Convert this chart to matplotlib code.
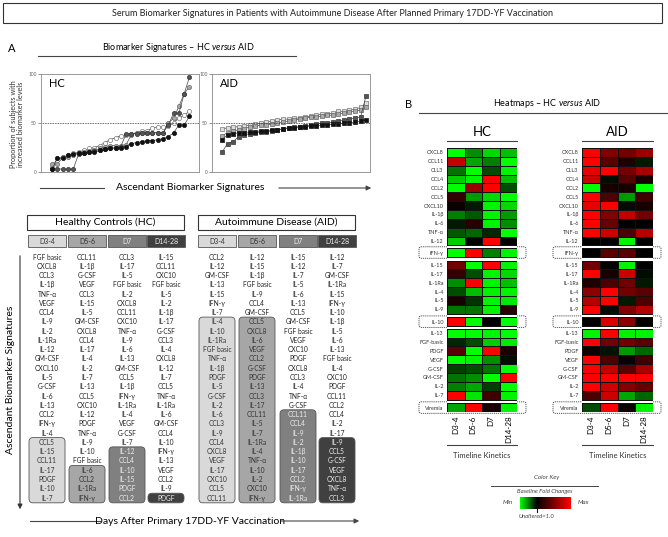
import numpy as np
import matplotlib
matplotlib.use('Agg')
import matplotlib.pyplot as plt
from matplotlib.patches import FancyBboxPatch, Rectangle
from matplotlib.colors import LinearSegmentedColormap

plt.rcParams['font.family'] = ['Lato', 'DejaVu Sans']
plt.rcParams['mathtext.fontset'] = 'custom'
plt.rcParams['mathtext.it'] = 'Lato:italic'

W, H = 668, 537

# ---- Panel A: proportion of subjects with increased biomarker levels (%)
hc_black = [3, 14, 14, 17, 18, 19, 19, 20, 20, 22, 23, 24, 24, 25, 26, 29, 30, 31, 32, 32, 33, 34, 36, 40, 48, 48, 57]
hc_dgray = [3, 3, 3, 3, 3, 18, 19, 20, 21, 22, 23, 24, 25, 26, 39, 39, 39, 40, 40, 40, 40, 40, 48, 60, 60, 80, 97]
hc_mgray = [8, 8, 15, 15, 17, 19, 20, 21, 22, 24, 26, 27, 27, 27, 28, 38, 40, 40, 40, 40, 40, 40, 50, 55, 67, 80, 87]
hc_open = [5, 14, 15, 17, 19, 20, 22, 24, 25, 27, 30, 33, 35, 37, 38, 39, 40, 42, 42, 45, 46, 46, 47, 50, 55, 58, 62]

aid_open = [44, 45, 46, 46, 47, 48, 49, 50, 51, 52, 53, 54, 54, 55, 55, 56, 57, 58, 59, 59, 60, 62, 62, 63, 64, 66, 70]
aid_mgray = [37, 40, 42, 43, 44, 46, 47, 48, 48, 49, 50, 51, 52, 53, 54, 55, 56, 56, 57, 58, 58, 59, 60, 61, 62, 63, 66]
aid_black = [33, 38, 39, 40, 40, 41, 41, 42, 42, 43, 43, 44, 45, 45, 46, 46, 47, 47, 48, 48, 49, 49, 50, 50, 51, 52, 53]
aid_dgray = [20, 29, 31, 36, 38, 39, 40, 41, 41, 42, 43, 44, 45, 46, 46, 47, 48, 49, 50, 50, 51, 52, 53, 54, 55, 56, 78]

days = ['D3-4', 'D5-6', 'D7', 'D14-28']

# ascendant biomarker lists (top -> bottom)
hc_list_d3_4 = ['FGF basic', 'CXCL8', 'CCL3', 'IL-1β', 'TNF-α', 'VEGF', 'CCL4', 'IL-9', 'IL-2', 'IL-1Ra',
                'IL-12', 'GM-CSF', 'CXCL10', 'IL-5', 'G-CSF', 'IL-6', 'IL-13', 'CCL2', 'IFN-γ', 'IL-4',
                'CCL5', 'IL-15', 'CCL11', 'IL-17', 'PDGF', 'IL-10', 'IL-7']
hc_list_d5_6 = ['CCL11', 'IL-1β', 'G-CSF', 'VEGF', 'CCL3', 'IL-15', 'IL-5', 'GM-CSF', 'CXCL8', 'CCL4',
                'IL-17', 'IL-4', 'IL-2', 'IL-7', 'IL-13', 'CCL5', 'CXC10', 'IL-12', 'PDGF', 'TNF-α',
                'IL-9', 'IL-10', 'FGF basic', 'IL-6', 'CCL2', 'IL-1Ra', 'IFN-γ']
hc_list_d7 = ['CCL3', 'IL-17', 'IL-5', 'FGF basic', 'IL-2', 'CXCL8', 'CCL11', 'CXC10', 'TNF-α', 'IL-9',
              'IL-6', 'IL-13', 'GM-CSF', 'CCL5', 'IL-1β', 'IFN-γ', 'IL-1Ra', 'IL-4', 'VEGF', 'G-CSF',
              'IL-7', 'IL-12', 'CCL4', 'IL-10', 'IL-15', 'PDGF', 'CCL2']
hc_list_d14_28 = ['IL-15', 'CCL11', 'CXC10', 'FGF basic', 'IL-5', 'IL-2', 'IL-1β', 'IL-17', 'G-CSF', 'CCL3',
                  'IL-4', 'CXCL8', 'IL-12', 'IL-7', 'CCL5', 'TNF-α', 'IL-1Ra', 'IL-6', 'GM-CSF', 'CCL4',
                  'IL-10', 'IFN-γ', 'IL-13', 'VEGF', 'CCL2', 'IL-9', 'PDGF']
aid_list_d3_4 = ['CCL2', 'IL-12', 'GM-CSF', 'IL-13', 'IL-15', 'IFN-γ', 'IL-7', 'IL-4', 'IL-10', 'IL-1Ra',
                 'FGF basic', 'TNF-α', 'IL-1β', 'PDGF', 'IL-5', 'G-CSF', 'IL-2', 'IL-6', 'CCL3', 'IL-9',
                 'CCL4', 'CXCL8', 'VEGF', 'IL-17', 'CXC10', 'CCL5', 'CCL11']
aid_list_d5_6 = ['IL-12', 'IL-15', 'IL-1β', 'FGF basic', 'IL-9', 'CCL4', 'GM-CSF', 'CCL5', 'CXCL8', 'IL-6',
                 'VEGF', 'CCL2', 'G-CSF', 'PDGF', 'IL-13', 'CCL3', 'IL-17', 'CCL11', 'IL-5', 'IL-7',
                 'IL-1Ra', 'IL-4', 'TNF-α', 'IL-10', 'IL-2', 'CXC10', 'IFN-γ']
aid_list_d7 = ['IL-15', 'IL-12', 'IL-7', 'IL-5', 'IL-6', 'IL-13', 'CCL5', 'GM-CSF', 'FGF basic', 'VEGF',
               'CXC10', 'PDGF', 'CXCL8', 'CCL3', 'IL-4', 'TNF-α', 'G-CSF', 'CCL11', 'CCL4', 'IL-9',
               'IL-2', 'IL-1β', 'IL-10', 'IL-17', 'CCL2', 'IFN-γ', 'IL-1Ra']
aid_list_d14_28 = ['IL-12', 'IL-7', 'GM-CSF', 'IL-1Ra', 'IL-15', 'IFN-γ', 'IL-10', 'IL-1β', 'IL-5', 'IL-6',
                   'IL-13', 'FGF basic', 'IL-4', 'CXC10', 'PDGF', 'CCL11', 'CCL2', 'CCL4', 'IL-2', 'IL-17',
                   'IL-9', 'CCL5', 'G-CSF', 'VEGF', 'CXCL8', 'TNF-α', 'CCL3']
hc_highlight_from = [20, 23, 21, 26]
aid_highlight_from = [7, 7, 17, 20]

# ---- Panel B: heatmaps (fold change, -1 = min/green, +1 = max/red)
hm_rows = ['CXCL8', 'CCL11', 'CLL3', 'CCL4', 'CCL2', 'CCL5', 'CXCL10', 'IL-1β', 'IL-6', 'TNF-α',
           'IL-12', 'IFN-γ', 'IL-15', 'IL-17', 'IL-1Ra', 'IL-4', 'IL-5', 'IL-9', 'IL-10', 'IL-13',
           'FGF-basic', 'PDGF', 'VEGF', 'G-CSF', 'GM-CSF', 'IL-2', 'IL-7', 'Viremia']
boxed_rows = ['IFN-γ', 'IL-10', 'Viremia']
hc_d3_4 = [-1, 0.75, -0.45, -0.8, -1, 0.2, 0.05, -0.5, -0.1, -0.35, -0.8, -1, 0.45, 0.2, -0.55, -0.3, 0.1, -0.45,
           1, -1, -0.15, 0.35, -1, -0.25, -0.45, -0.5, 1, -0.65]
hc_d5_6 = [-0.55, -0.65, -1, -0.95, 0.6, -0.6, -0.1, -0.35, 0.15, -0.4, 0, 1, -1, -0.3, 1, -0.75, -0.2, -0.45,
           -1, -1, -0.3, -1, -0.95, -0.3, -0.55, -0.65, -0.9, 1]
hc_d7 = [-0.85, -0.5, -0.3, 1, 1, -0.85, -0.95, -0.95, -0.95, -0.15, 1, -0.5, 1, -0.95, -0.95, -0.95, -0.95, -0.95,
         0, -0.95, -0.8, 1, -0.55, -0.45, -1, -0.25, 0.25, 0.1]
hc_d14_28 = [-0.75, -1, -0.95, -0.75, -0.3, -1, -0.85, -0.6, -0.55, -1, 0, -0.95, -0.95, -0.85, -0.75, -0.95, -0.9,
             0.15, -1, -1, -0.9, 0.1, -0.05, -1, 1, -1, -0.95, -0.95]
aid_d3_4 = [1, 1, 0.9, 0.8, -1, 1, 0.9, 1, 1, 1, 0, 0, 0.45, 1, 0.12, 0.55, 0.7, 1, 0.02, -0.95, 1, 0.05, 1, 1, 1,
            1, 0.3, -0.3]
aid_d5_6 = [0.5, 0.35, 1, -0.05, 0.1, 0.3, 1, 0.5, 0.4, 0.8, 0, 0.35, 0, 0.1, 0.3, 1, 1, -0.05, 0.85, 1, 0.45,
            -0.08, 0.3, 0.75, 1, 0.8, 0.8, 1]
aid_d7 = [0.45, 0.12, 0.45, 0.35, 0.1, -0.6, -0.05, 0.75, 0, 0.3, -0.95, 0.35, -0.95, 0.8, 0.45, 0.45, -0.1, 0.5,
          0.55, -0.95, 0.45, -0.6, 0.05, 0.35, 1, 0.5, -0.65, 0.05]
aid_d14_28 = [0.6, -0.1, 0.65, 0.1, -1, 0.25, 0.1, 0.45, 0, 0.7, 0, 0, 0, -0.05, -0.1, 0.35, 0.3, 0.7, 0.02,
              -0.95, 0.35, -0.4, 0.25, 0.65, 1, 0.4, -0.4, -0.95]

day_fill = ['#d9d9d9', '#a6a6a6', '#808080', '#404040']
day_text = ['#333333', '#333333', '#eeeeee', '#eeeeee']
gbr = LinearSegmentedColormap.from_list('gbr', ['#00ff00', '#000000', '#ff0000'])

fig = plt.figure(figsize=(6.68, 5.37), dpi=100)


def px_axes(x0, y0, x1, y1, **kw):
    return fig.add_axes([x0 / W, 1 - y1 / H, (x1 - x0) / W, (y1 - y0) / H], **kw)


ov = px_axes(0, 0, W, H)
ov.set_xlim(0, W)
ov.set_ylim(H, 0)
ov.axis('off')

# title box
ov.add_patch(Rectangle((3, 3), 659, 20, fc='white', ec='#333333', lw=0.8))
ov.text(333, 13, 'Serum Biomarker Signatures in Patients with Autoimmune Disease After Planned Primary 17DD-YF Vaccination',
        ha='center', va='center', fontsize=6.5, color='#222222')

# ---- panel A header
ov.text(8, 49, 'A', fontsize=8, va='center')
ov.text(178, 47, 'Biomarker Signatures – HC $\\mathit{versus}$ AID', ha='center', va='center', fontsize=6.5)
ov.plot([38, 296], [56, 56], color='#444444', lw=0.8)

ov.text(17, 124, 'Proportion of subjects with\nincreased biomarker levels', rotation=90, ha='center',
        va='center', fontsize=5.3, color='#333333', linespacing=1.15)


def scatter_panel(ax, series, marker, name, xlim):
    for vals, face, edge in series:
        ax.plot(range(len(vals)), vals, marker=marker, ms=3, mfc=face, mec=edge, mew=0.5,
                color='#444444', lw=0.5)
    ax.axhline(50, color='#333333', lw=0.6, ls=(0, (1, 1)))
    ax.set_ylim(0, 100)
    ax.set_xlim(*xlim)
    ax.set_xticks([])
    ax.set_yticks([0, 50, 100])
    ax.tick_params(axis='y', labelsize=3.5, length=2, width=0.5, pad=1, colors='#666666')
    for s in ax.spines.values():
        s.set_color('#999999')
        s.set_linewidth(0.7)
    ax.text(0.05, 0.9, name, transform=ax.transAxes, fontsize=8, va='center')


ax_hc = px_axes(41, 74, 199, 172)
scatter_panel(ax_hc, [(hc_open, 'white', '#777777'), (hc_mgray, '#aaaaaa', '#666666'),
                      (hc_dgray, '#555555', '#333333'), (hc_black, '#111111', '#111111')],
              'o', 'HC', (-2.1, 27.8))
ax_aid = px_axes(212, 74, 370, 172)
scatter_panel(ax_aid, [(aid_open, '#dddddd', '#777777'), (aid_mgray, '#aaaaaa', '#666666'),
                       (aid_dgray, '#555555', '#333333'), (aid_black, '#111111', '#111111')],
              's', 'AID', (-1.8, 26.7))

ov.plot([40, 104], [188, 188], color='#444444', lw=0.8)
ov.text(190, 188, 'Ascendant Biomarker Signatures', ha='center', va='center', fontsize=7.5)
ov.annotate('', xy=(374, 188), xytext=(276, 188),
            arrowprops=dict(arrowstyle='-|>', color='#444444', lw=0.8, mutation_scale=7))

# ---- panel A table


def row_y(i):
    return 257 + i * 9.27


def table(title, x0, lefts, lists, hl_from):
    ov.add_patch(Rectangle((x0, 215), 157, 15, fc='white', ec='#333333', lw=0.8))
    ov.text(x0 + 78.5, 222.5, title, ha='center', va='center', fontsize=7.5)
    for k, (left, items, start) in enumerate(zip(lefts, lists, hl_from)):
        cx = left + 19
        ov.add_patch(Rectangle((left, 235), 38, 12, fc=day_fill[k], ec='#555555', lw=0.6))
        ov.text(cx, 241, days[k], ha='center', va='center', fontsize=5, color=day_text[k])
        ov.add_patch(FancyBboxPatch((left + 1, row_y(start) - 4.8), 36, row_y(26) - row_y(start) + 9.6,
                                    boxstyle='round,pad=0,rounding_size=4', fc=day_fill[k], ec='#555555', lw=0.6))
        for i, name in enumerate(items):
            col = day_text[k] if i >= start else '#222222'
            ov.text(cx, row_y(i), name, ha='center', va='center', fontsize=4.8, color=col)


table('Healthy Controls (HC)', 27, [28, 68, 108, 147],
      [hc_list_d3_4, hc_list_d5_6, hc_list_d7, hc_list_d14_28], hc_highlight_from)
table('Autoimmune Disease (AID)', 198, [198, 238, 279, 318],
      [aid_list_d3_4, aid_list_d5_6, aid_list_d7, aid_list_d14_28], aid_highlight_from)

ov.annotate('', xy=(20, 512), xytext=(20, 253),
            arrowprops=dict(arrowstyle='-|>', color='#333333', lw=0.8, mutation_scale=7))
ov.text(11, 380, 'Ascendant Biomarker Signatures', rotation=90, ha='center', va='center', fontsize=7.5)

ov.plot([30, 100], [521, 521], color='#444444', lw=0.8)
ov.text(190, 521, 'Days After Primary 17DD-YF Vaccination', ha='center', va='center', fontsize=7.5)
ov.annotate('', xy=(362, 521), xytext=(278, 521),
            arrowprops=dict(arrowstyle='-|>', color='#444444', lw=0.8, mutation_scale=7))

# ---- panel B heatmaps
ov.text(405, 104, 'B', fontsize=8, va='center')
ov.text(547, 104, 'Heatmaps – HC $\\mathit{versus}$ AID', ha='center', va='center', fontsize=6.5)
ov.plot([419, 668], [113, 113], color='#444444', lw=0.8)

gaps = {11: 0.3, 12: 0.4, 18: 0.4, 19: 0.3, 27: 0.4}
ytop = []
y = 0
for i in range(len(hm_rows)):
    y += gaps.get(i, 0)
    ytop.append(y)
    y += 1
hm_top, hm_bot = 148, 412
row_h = (hm_bot - hm_top) / y


def heatmap(x0, x1, cols, name, box_x0, box_x1):
    ax = px_axes(x0, hm_top, x1, hm_bot)
    vals = np.array(cols).T
    for i in range(len(hm_rows)):
        ax.pcolormesh([0, 1, 2, 3, 4], [ytop[i], ytop[i] + 1], vals[i:i + 1], cmap=gbr, vmin=-1, vmax=1,
                      edgecolors='#111111', linewidth=0.5)
    ax.set_xlim(0, 4)
    ax.set_ylim(y, 0)
    ax.set_yticks([t + 0.5 for t in ytop], hm_rows)
    ax.set_xticks([0.5, 1.5, 2.5, 3.5], days, rotation=90)
    ax.tick_params(axis='y', length=0, labelsize=4, pad=2.5, colors='#333333')
    ax.tick_params(axis='x', length=0, labelsize=5.8, pad=2.5)
    for s in ax.spines.values():
        s.set_visible(False)
    cx = (x0 + x1) / 2
    ov.text(cx, 132, name, ha='center', va='center', fontsize=9.5)
    ov.plot([x0, x1], [141, 141], color='#444444', lw=0.8)
    ov.plot([x0, x1], [445, 445], color='#444444', lw=0.8)
    ov.text(cx, 455, 'Timeline Kinetics', ha='center', va='center', fontsize=5.5, color='#333333')
    for rname in boxed_rows:
        i = hm_rows.index(rname)
        yb = hm_top + ytop[i] * row_h
        ov.add_patch(FancyBboxPatch((box_x0, yb - 1.3), box_x1 - box_x0, row_h + 2.6,
                                    boxstyle='round,pad=0,rounding_size=2', fc='none', ec='#444444',
                                    lw=0.6, ls=(0, (1.5, 1))))


heatmap(447, 517, [hc_d3_4, hc_d5_6, hc_d7, hc_d14_28], 'HC', 419, 526)
heatmap(582, 653, [aid_d3_4, aid_d5_6, aid_d7, aid_d14_28], 'AID', 553, 661)

# color key
ov.text(547, 478, 'Color Key', ha='center', va='center', fontsize=4.5, style='italic', color='#444444')
ov.plot([491, 598], [486, 486], color='#444444', lw=0.7)
ov.text(545, 492, 'Baseline Fold Changes', ha='center', va='center', fontsize=4.3, style='italic', color='#444444')
key_cmap = LinearSegmentedColormap.from_list('key', [(0, '#00ff00'), (0.33, '#000000'), (1, '#ff0000')])
ov.imshow(np.linspace(0, 1, 256)[None, :], cmap=key_cmap, aspect='auto', extent=(520, 571, 509, 497))
ov.set_xlim(0, W)
ov.set_ylim(H, 0)
ov.plot([537, 537], [505, 512], color='#111111', lw=0.8)
ov.text(508, 503, 'Min', ha='center', va='center', fontsize=4.5, style='italic', color='#444444')
ov.text(583, 503, 'Max', ha='center', va='center', fontsize=4.5, style='italic', color='#444444')
ov.text(536, 517, 'Unaltered=1.0', ha='center', va='center', fontsize=4.2, style='italic', color='#444444')

fig.savefig('out.png', dpi=100)
